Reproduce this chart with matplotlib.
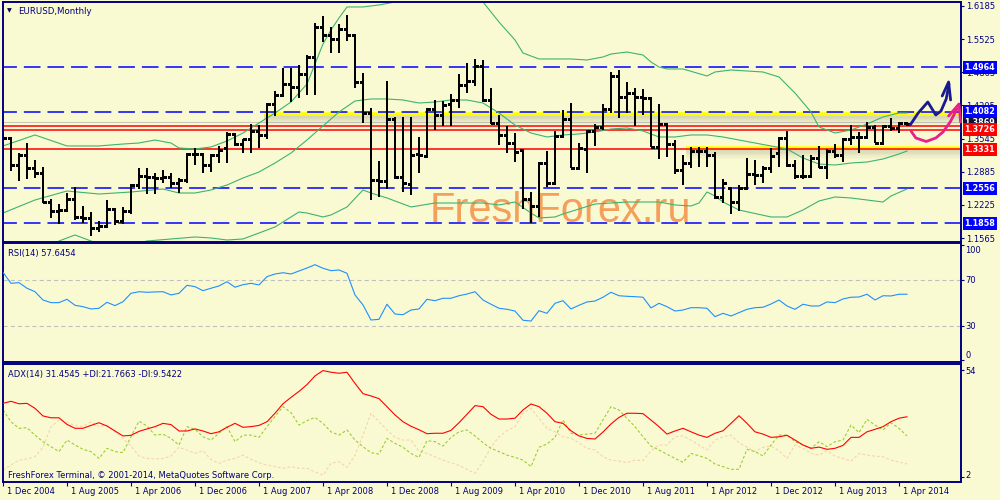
import numpy as np
import matplotlib
matplotlib.use("Agg")
import matplotlib.pyplot as plt

plt.rcParams['font.family'] = ['DejaVu Sans']
plt.rcParams['lines.scale_dashes'] = False

BG = '#FAFAD2'
NAVY = '#000080'

# monthly EURUSD bars, Dec 2004 .. May 2014
opens = [1.3598, 1.3558, 1.3020, 1.3220, 1.2961, 1.2861, 1.2284, 1.2105, 1.2125, 1.2344,
         1.1986, 1.1966, 1.1767, 1.1807, 1.2145, 1.1906, 1.2105, 1.2622, 1.2800, 1.2782,
         1.2762, 1.2782, 1.2662, 1.2722, 1.3239, 1.3239, 1.3020, 1.3220, 1.3359, 1.3638,
         1.3438, 1.3538, 1.3697, 1.3618, 1.4234, 1.4414, 1.4632, 1.4573, 1.4831, 1.5170,
         1.5767, 1.5608, 1.5528, 1.5727, 1.5608, 1.4672, 1.4055, 1.2722, 1.2702, 1.3936,
         1.2782, 1.2642, 1.3239, 1.3200, 1.4135, 1.4016, 1.4234, 1.4314, 1.4612, 1.4692,
         1.4991, 1.4314, 1.3856, 1.3618, 1.3458, 1.3319, 1.2344, 1.2205, 1.3060, 1.2662,
         1.3598, 1.3936, 1.2961, 1.3339, 1.3697, 1.3777, 1.4135, 1.4792, 1.4374, 1.4453,
         1.4374, 1.4354, 1.3379, 1.3836, 1.3438, 1.2921, 1.3060, 1.3299, 1.3299, 1.3220,
         1.2384, 1.2563, 1.2284, 1.2563, 1.2841, 1.2822, 1.2961, 1.3259, 1.3558, 1.3020,
         1.2800, 1.2800, 1.3160, 1.2981, 1.3299, 1.3220, 1.3538, 1.3578, 1.3578, 1.3777,
         1.3458, 1.3797, 1.3757, 1.3856]
highs = [1.3657, 1.3578, 1.3259, 1.3458, 1.3120, 1.2981, 1.2344, 1.2244, 1.2463, 1.2583,
         1.2205, 1.2085, 1.1906, 1.2324, 1.2165, 1.2185, 1.2642, 1.2961, 1.2961, 1.2861,
         1.2921, 1.2861, 1.2762, 1.3259, 1.3359, 1.3259, 1.3239, 1.3399, 1.3677, 1.3657,
         1.3538, 1.3836, 1.3816, 1.4254, 1.4493, 1.4951, 1.4951, 1.5011, 1.5210, 1.5846,
         1.5986, 1.5767, 1.5826, 1.6006, 1.5628, 1.4851, 1.4155, 1.3100, 1.4692, 1.3976,
         1.3976, 1.3976, 1.3578, 1.4155, 1.4314, 1.4294, 1.4433, 1.4831, 1.5050, 1.5130,
         1.5110, 1.4553, 1.4016, 1.3797, 1.3657, 1.3339, 1.2483, 1.3080, 1.3299, 1.3697,
         1.4115, 1.4254, 1.3458, 1.3717, 1.3836, 1.4234, 1.4871, 1.4911, 1.4672, 1.4553,
         1.4533, 1.4374, 1.4234, 1.3836, 1.3518, 1.3220, 1.3379, 1.3379, 1.3379, 1.3279,
         1.2742, 1.2583, 1.2622, 1.3160, 1.3120, 1.3001, 1.3359, 1.3578, 1.3697, 1.3120,
         1.3220, 1.3220, 1.3399, 1.3339, 1.3438, 1.3558, 1.3816, 1.3677, 1.3876, 1.3816,
         1.3816, 1.3956, 1.3876, 1.3876]
lows = [1.3120, 1.2901, 1.2702, 1.2742, 1.2762, 1.2264, 1.1966, 1.1846, 1.2085, 1.1926,
        1.1866, 1.1608, 1.1687, 1.1787, 1.1827, 1.1846, 1.2046, 1.2543, 1.2443, 1.2443,
        1.2662, 1.2563, 1.2463, 1.2662, 1.3020, 1.2861, 1.2881, 1.3060, 1.3060, 1.3399,
        1.3259, 1.3259, 1.3359, 1.3538, 1.3996, 1.4374, 1.4274, 1.4354, 1.4414, 1.4414,
        1.5468, 1.5249, 1.5249, 1.5488, 1.4553, 1.3856, 1.2324, 1.2384, 1.2543, 1.2742,
        1.2483, 1.2423, 1.2861, 1.3180, 1.3717, 1.3797, 1.3797, 1.4155, 1.4453, 1.4593,
        1.4274, 1.3836, 1.3419, 1.3259, 1.3080, 1.2145, 1.1866, 1.1986, 1.2583, 1.2642,
        1.3578, 1.2961, 1.2961, 1.2861, 1.3399, 1.3717, 1.4055, 1.3956, 1.4055, 1.3797,
        1.4016, 1.3379, 1.3140, 1.3180, 1.2841, 1.2622, 1.2961, 1.2981, 1.2981, 1.2344,
        1.2264, 1.2046, 1.2105, 1.2523, 1.2622, 1.2662, 1.2861, 1.2981, 1.2981, 1.2742,
        1.2742, 1.2782, 1.2961, 1.2742, 1.3160, 1.3080, 1.3419, 1.3259, 1.3578, 1.3458,
        1.3458, 1.3697, 1.3657, 1.3797]
closes = [1.3558, 1.3020, 1.3220, 1.2961, 1.2861, 1.2284, 1.2105, 1.2125, 1.2344, 1.1986,
          1.1966, 1.1767, 1.1807, 1.2145, 1.1906, 1.2105, 1.2622, 1.2800, 1.2782, 1.2762,
          1.2782, 1.2662, 1.2722, 1.3239, 1.3239, 1.3020, 1.3220, 1.3319, 1.3638, 1.3438,
          1.3538, 1.3697, 1.3618, 1.4234, 1.4414, 1.4632, 1.4573, 1.4831, 1.5170, 1.5767,
          1.5608, 1.5528, 1.5727, 1.5608, 1.4672, 1.4055, 1.2722, 1.2702, 1.3936, 1.2782,
          1.2662, 1.3220, 1.3220, 1.4135, 1.4016, 1.4215, 1.4314, 1.4612, 1.4692, 1.4991,
          1.4314, 1.3856, 1.3618, 1.3458, 1.3279, 1.2344, 1.2205, 1.3060, 1.2662, 1.3598,
          1.3936, 1.2961, 1.3359, 1.3697, 1.3777, 1.4135, 1.4792, 1.4374, 1.4453, 1.4374,
          1.4354, 1.3379, 1.3836, 1.3438, 1.2921, 1.3060, 1.3299, 1.3299, 1.3220, 1.2384,
          1.2662, 1.2284, 1.2563, 1.2841, 1.2822, 1.2961, 1.3200, 1.3558, 1.3020, 1.2800,
          1.2800, 1.3160, 1.2981, 1.3299, 1.3220, 1.3538, 1.3578, 1.3578, 1.3777, 1.3458,
          1.3797, 1.3757, 1.3856, 1.3836]

# Bollinger bands (bar index, price)
bb_up_x = [0, 4, 8, 12, 15, 17, 19, 21, 22, 24, 26, 28, 30, 32, 34, 36, 38, 39, 40, 41,
           42, 43, 45, 47, 49, 51, 53, 55, 57, 59, 60, 62, 64, 65, 67, 71, 73, 75, 76, 78,
           80, 81, 82, 83, 85, 88, 89, 91, 95, 97, 99, 101, 102, 104, 106, 108, 110, 112, 113]
bb_up = [1.3399, 1.3618, 1.3399, 1.3399, 1.3438, 1.3458, 1.3518, 1.3458, 1.3359, 1.3339,
         1.3379, 1.3498, 1.3657, 1.3856, 1.4055, 1.4274, 1.4632, 1.5030, 1.5428, 1.5707,
         1.5946, 1.6165, 1.6165, 1.6205, 1.6264, 1.65, 1.68, 1.69, 1.67, 1.64,
         1.6264, 1.5866, 1.5508, 1.5249, 1.5130, 1.5130, 1.5110, 1.5170, 1.5229, 1.5269,
         1.5209, 1.5070, 1.4971, 1.4931, 1.4931, 1.4792, 1.4871, 1.4911, 1.4871, 1.4772,
         1.4453, 1.4075, 1.3777, 1.3657, 1.3717, 1.3836, 1.3976, 1.4055, 1.4055]
bb_mid_x = [0, 4, 8, 12, 16, 20, 22, 24, 26, 28, 30, 32, 34, 36, 38, 40, 42, 44, 46, 48,
            50, 52, 54, 56, 58, 60, 62, 64, 66, 68, 70, 72, 74, 76, 78, 80, 82, 84, 86, 88,
            90, 92, 94, 96, 98, 100, 102, 104, 106, 108, 110, 112, 113]
bb_mid = [1.2065, 1.2324, 1.2503, 1.2443, 1.2483, 1.2543, 1.2463, 1.2463, 1.2523, 1.2622,
          1.2762, 1.2881, 1.3060, 1.3259, 1.3518, 1.3797, 1.4075, 1.4294, 1.4334, 1.4334,
          1.4314, 1.4254, 1.4274, 1.4314, 1.4314, 1.4254, 1.4055, 1.3816, 1.3657, 1.3578,
          1.3618, 1.3638, 1.3677, 1.3737, 1.3757, 1.3697, 1.3578, 1.3578, 1.3618, 1.3618,
          1.3578, 1.3518, 1.3458, 1.3399, 1.3339, 1.3160, 1.3040, 1.3020, 1.3060, 1.3080,
          1.3140, 1.3239, 1.3299]
bb_low_x = [0, 4, 7, 9, 11, 13, 16, 18, 21, 24, 26, 28, 30, 32, 34, 36, 37, 38, 40, 41,
            43, 45, 46, 48, 51, 54, 56, 58, 60, 62, 64, 66, 67, 69, 70, 72, 74, 78, 82, 84,
            86, 87, 88, 89, 90, 92, 96, 98, 100, 102, 104, 106, 108, 110, 111, 113]
bb_low = [1.075, 1.103, 1.1508, 1.1628, 1.1508, 1.1409, 1.1429, 1.1508, 1.1548, 1.1588,
          1.1568, 1.1528, 1.1548, 1.1667, 1.1787, 1.1986, 1.2085, 1.2065, 1.1986, 1.2026,
          1.2185, 1.2523, 1.2463, 1.2364, 1.2185, 1.2264, 1.2264, 1.2264, 1.2264, 1.2225,
          1.2284, 1.2065, 1.1966, 1.1986, 1.2046, 1.2145, 1.2244, 1.2284, 1.2284, 1.2225,
          1.2205, 1.2264, 1.2483, 1.2404, 1.2284, 1.2125, 1.1986, 1.1986, 1.2125, 1.2304,
          1.2384, 1.2364, 1.2324, 1.2284, 1.2404, 1.2543]

rsi = [76.7, 67.1, 67.7, 62.8, 59.8, 52.6, 50.3, 50.3, 53.2, 48.0,
       46.8, 44.8, 45.4, 50.6, 47.7, 51.1, 58.4, 59.8, 59.3, 59.6,
       59.8, 57.0, 58.4, 65.4, 64.2, 60.7, 62.8, 64.8, 68.5, 63.7,
       65.9, 67.1, 65.7, 72.9, 75.2, 76.3, 75.2, 77.8, 80.4, 83.3,
       80.2, 78.1, 78.7, 75.8, 57.0, 48.3, 35.2, 35.8, 48.9, 40.4,
       39.8, 43.9, 44.8, 53.2, 52.0, 54.1, 54.1, 56.3, 57.8, 59.8,
       52.6, 48.9, 45.4, 44.5, 43.0, 35.0, 34.3, 43.3, 41.0, 49.7,
       52.0, 44.8, 48.0, 50.9, 51.7, 55.0, 59.3, 56.3, 55.8, 55.5,
       55.0, 45.7, 49.7, 46.8, 43.0, 43.9, 45.9, 45.9, 45.4, 38.1,
       41.0, 38.7, 41.6, 44.5, 45.9, 46.3, 49.1, 52.6, 47.4, 44.5,
       48.9, 47.4, 47.4, 50.9, 50.3, 53.5, 55.0, 55.2, 57.6, 52.6,
       56.3, 56.1, 57.6, 57.6]

adx = [37.8, 38.8, 37.6, 37.8, 35.4, 31.7, 30.8, 30.8, 27.6, 25.7,
       25.7, 27.1, 28.4, 26.8, 24.4, 22.0, 22.3, 24.2, 25.4, 26.5,
       28.1, 27.5, 24.4, 24.4, 25.4, 24.4, 23.1, 24.0, 26.2, 28.1,
       26.2, 26.5, 27.1, 28.9, 33.0, 37.6, 40.7, 43.6, 46.9, 51.1,
       53.7, 52.9, 52.4, 52.9, 47.5, 42.5, 41.4, 40.1, 36.2, 32.2,
       28.9, 26.7, 25.0, 23.1, 23.3, 23.3, 24.7, 28.4, 32.5, 36.7,
       36.2, 32.5, 30.2, 30.2, 30.6, 34.6, 37.5, 36.2, 33.0, 28.9,
       28.1, 24.5, 22.0, 20.8, 20.5, 23.9, 27.8, 31.0, 33.0, 33.0,
       32.8, 29.7, 26.5, 22.9, 24.4, 25.7, 24.0, 22.4, 21.3, 23.3,
       24.5, 28.1, 31.8, 28.1, 24.0, 22.9, 21.3, 21.6, 22.3, 20.0,
       17.6, 16.0, 16.6, 15.5, 16.0, 17.4, 21.3, 21.3, 24.0, 25.2,
       26.5, 28.9, 30.6, 31.3]
plus_di = [34.6, 28.9, 25.7, 26.0, 22.4, 19.2, 16.8, 14.4, 20.0, 17.6,
           15.5, 14.4, 11.1, 16.0, 14.4, 13.9, 21.6, 29.2, 26.8, 22.4,
           22.8, 20.8, 17.6, 26.5, 25.2, 21.6, 20.0, 23.3, 26.5, 19.2,
           22.4, 22.4, 21.3, 26.5, 31.4, 36.2, 33.3, 27.3, 29.4, 31.0,
           28.1, 24.0, 22.4, 24.9, 20.0, 16.8, 13.9, 13.2, 20.8, 18.4,
           16.5, 13.5, 11.6, 19.7, 19.2, 17.1, 21.3, 24.0, 24.9, 22.0,
           18.7, 16.0, 14.4, 12.7, 11.6, 10.3, 7.1, 16.5, 18.1, 21.3,
           29.8, 23.3, 22.4, 22.9, 23.3, 29.8, 36.2, 34.6, 30.5, 26.5,
           21.6, 17.1, 15.2, 13.1, 11.1, 9.2, 13.5, 12.4, 11.1, 8.4,
           7.1, 5.8, 5.8, 15.5, 14.4, 12.3, 17.6, 22.4, 22.4, 19.2,
           17.6, 16.0, 19.2, 16.8, 19.2, 20.0, 27.3, 23.6, 30.0, 27.3,
           24.9, 28.4, 25.7, 22.0]
minus_di = [5.5, 7.9, 10.3, 10.8, 11.9, 16.5, 26.5, 29.7, 28.6, 27.0,
            26.5, 28.9, 26.5, 27.3, 24.0, 20.8, 17.1, 12.2, 11.1, 10.8,
            11.1, 12.2, 16.5, 15.2, 13.5, 14.8, 10.6, 8.7, 10.3, 11.1,
            12.7, 10.6, 9.0, 7.9, 7.1, 6.3, 7.1, 6.3, 6.3, 4.6,
            3.0, 8.7, 9.5, 6.7, 12.7, 22.4, 33.0, 28.9, 24.9, 21.3,
            20.0, 20.0, 14.4, 13.5, 11.9, 10.3, 9.0, 7.7, 5.8, 3.8,
            9.5, 16.5, 21.6, 24.5, 26.5, 33.0, 35.4, 30.5, 25.7, 24.0,
            21.6, 20.8, 18.7, 16.0, 15.2, 11.9, 10.3, 9.8, 9.0, 10.3,
            10.0, 14.8, 17.6, 17.6, 21.6, 22.0, 20.0, 17.6, 15.2, 20.0,
            21.6, 22.4, 18.7, 16.5, 14.4, 16.5, 17.1, 14.8, 11.1, 17.6,
            16.0, 13.5, 12.7, 14.8, 12.2, 11.1, 9.8, 13.5, 12.7, 12.2,
            11.9, 10.3, 9.3, 8.4]

date_labels = ['1 Dec 2004', '1 Aug 2005', '1 Apr 2006', '1 Dec 2006', '1 Aug 2007',
               '1 Apr 2008', '1 Dec 2008', '1 Aug 2009', '1 Apr 2010', '1 Dec 2010',
               '1 Aug 2011', '1 Apr 2012', '1 Dec 2012', '1 Aug 2013', '1 Apr 2014']
price_ticks = [1.6185, 1.5525, 1.4865, 1.4205, 1.3545, 1.2885, 1.2225, 1.1565]

blue_levels = [1.4964, 1.4082, 1.2556, 1.1858]
red_levels = [1.3795, 1.3726, 1.3331]
bid = 1.3869
yellow_lines = [(1.4035, 32.6), (1.3359, 85.4)]   # price, start bar

# hand drawn arrows (bar, price)
blue_arrow_x = [113.4, 114.4, 115.6, 116.6, 117.25, 117.9, 118.25]
blue_arrow_y = [1.3817, 1.4055, 1.4274, 1.4016, 1.4095, 1.4334, 1.4632]
blue_head_x = [117.4, 118.2, 118.45]
blue_head_y = [1.4394, 1.4672, 1.4314]
pink_arrow_x = [113.5, 114.1, 115.4, 116.6, 117.5, 118.4, 119.25]
pink_arrow_y = [1.3697, 1.3558, 1.3488, 1.3558, 1.3677, 1.3876, 1.4135]
pink_head_x = [118.2, 119.5, 119.7]
pink_head_y = [1.3996, 1.4235, 1.3876]

idx = np.arange(len(closes))
XL = (-0.06, 119.75)

fig = plt.figure(figsize=(10, 5), dpi=100, facecolor=BG)
ax_p = fig.add_axes([0.0025, 0.517, 0.9585, 0.4784], facecolor=BG)
ax_r = fig.add_axes([0.0025, 0.2754, 0.9585, 0.2378], facecolor=BG)
ax_a = fig.add_axes([0.0025, 0.0366, 0.9585, 0.2346], facecolor=BG)

for ax in (ax_p, ax_r, ax_a):
    ax.set_xlim(*XL)
    for s in ax.spines.values():
        s.set_color(NAVY)
        s.set_linewidth(1.4)
    ax.tick_params(axis='x', bottom=False, labelbottom=False)
    ax.tick_params(axis='y', left=False, labelleft=False, right=True, labelright=False,
                   length=2.5, width=0.8, color=NAVY)

# ---- price panel
ax_p.set_ylim(1.1498, 1.6258)
ax_p.set_yticks(price_ticks)
ax_p.set_yticklabels([f'{t:.4f}' for t in price_ticks])
ax_p.tick_params(axis='y', labelright=True, labelsize=6, labelcolor=NAVY, pad=1.5)

ax_p.text(0.446, 0.083, 'FreshForex.ru', transform=ax_p.transAxes, fontsize=30,
          family='Liberation Sans', color='#F4A05C', va='baseline', zorder=1)

for lv in blue_levels:
    ax_p.axhline(lv, color='#0000FF', lw=1.1, linestyle=(2, (12, 5)), zorder=2)
ax_p.axhline(bid, color='#C8C8B8', lw=0.8, zorder=1.5)

for p, x0 in yellow_lines:
    for k in range(8):
        ax_p.fill_between([x0, XL[1]], p - 0.0022 - k * 0.0024, p - 0.0022 - (k + 1) * 0.0024,
                          color='#7A7A68', alpha=0.3 * (1 - k / 8.0), lw=0, zorder=1.6)
    ax_p.hlines(p, x0, XL[1], color='#FFFF00', lw=2.6, zorder=1.8)

for lv in red_levels:
    ax_p.axhline(lv, color='#FF0000', lw=1.1, zorder=2.2)

for bx, by in ((bb_up_x, bb_up), (bb_mid_x, bb_mid), (bb_low_x, bb_low)):
    ax_p.plot(bx, by, color='#3CB371', lw=0.8, zorder=2.5)

ax_p.vlines(idx, lows, highs, color='black', lw=1.3, antialiased=False, zorder=4)
ax_p.hlines(opens, idx - 0.4, idx, color='black', lw=0.75, antialiased=False, zorder=4)
ax_p.hlines(closes, idx, idx + 0.4, color='black', lw=0.75, antialiased=False, zorder=4)

ax_p.plot(blue_arrow_x, blue_arrow_y, color='#1A1A90', lw=2.0, solid_joinstyle='round',
          solid_capstyle='round', zorder=6, clip_on=False)
ax_p.plot(blue_head_x, blue_head_y, color='#1A1A90', lw=2.0, solid_joinstyle='round',
          solid_capstyle='round', zorder=6, clip_on=False)
ax_p.plot(pink_arrow_x, pink_arrow_y, color='#E8208C', lw=2.0, solid_joinstyle='round',
          solid_capstyle='round', zorder=6, clip_on=False)
ax_p.plot(pink_head_x, pink_head_y, color='#E8208C', lw=2.0, solid_joinstyle='round',
          solid_capstyle='round', zorder=6, clip_on=False)


def price_tag(ax, y, color):
    ax.text(1.0035, y, f'{y:.4f}', transform=ax.get_yaxis_transform(), ha='left', va='center',
            fontsize=5.8, fontweight='bold', color='white', clip_on=False, zorder=7,
            bbox=dict(boxstyle='square,pad=0.22', fc=color, ec='none'))


price_tag(ax_p, bid, '#101038')
for lv in blue_levels:
    price_tag(ax_p, lv, '#0000FF')
price_tag(ax_p, red_levels[1], '#FF0000')
price_tag(ax_p, red_levels[2], '#FF0000')

ax_p.text(0.0068, 0.9636, '\u25BC', transform=ax_p.transAxes, fontsize=4.5, color='#000040',
          va='center', ha='center')
ax_p.text(0.0162, 0.9636, 'EURUSD,Monthly', transform=ax_p.transAxes, fontsize=6.2,
          color=NAVY, va='center')

# ---- RSI panel
ax_r.set_ylim(-1.57, 101.8)
ax_r.set_yticks([100, 70, 30, 0])
for lv in (70, 30):
    ax_r.axhline(lv, color='#C0C0C0', lw=0.8, linestyle=(0, (3, 2.2)), zorder=1)
ax_r.plot(idx, rsi, color='#1E90FF', lw=0.8, zorder=3)
for lab, fy in (('100', 0.944), ('70', 0.692), ('30', 0.305), ('0', 0.061)):
    ax_r.text(1.0042, fy, lab, transform=ax_r.transAxes, fontsize=6, color=NAVY,
              va='center', ha='left', clip_on=False)
ax_r.text(0.0057, 0.919, 'RSI(14) 57.6454', transform=ax_r.transAxes, fontsize=6,
          color=NAVY, va='center')

# ---- ADX panel
ax_a.set_ylim(-0.2, 56.7)
ax_a.set_yticks([54, 2])
ax_a.plot(idx, minus_di, color='#F6D3AE', lw=0.8, linestyle=(0, (2, 1.5)), zorder=2)
ax_a.plot(idx, plus_di, color='#9ACD32', lw=0.8, linestyle=(0, (2, 1.5)), zorder=2.2)
ax_a.plot(idx, adx, color='#FF0000', lw=0.8, zorder=3)
for lab, fy in (('54', 0.938), ('2', 0.051)):
    ax_a.text(1.0042, fy, lab, transform=ax_a.transAxes, fontsize=6, color=NAVY,
              va='center', ha='left', clip_on=False)
ax_a.text(0.0057, 0.918, 'ADX(14) 31.4545 +DI:21.7663 -DI:9.5422', transform=ax_a.transAxes,
          fontsize=6, color=NAVY, va='center')
ax_a.text(0.0057, 0.057, 'FreshForex Terminal, \u00a9 2001-2014, MetaQuotes Software Corp.',
          transform=ax_a.transAxes, fontsize=6, color=NAVY, va='center')

date_pos = idx[::8][:len(date_labels)]
ax_a.set_xticks(date_pos)
ax_a.tick_params(axis='x', bottom=True, length=3, width=0.8, color=NAVY, direction='out')
for xp, lab in zip(date_pos, date_labels):
    ax_a.text(xp + 0.5, -0.085, lab, transform=ax_a.get_xaxis_transform(), fontsize=6,
              color=NAVY, va='center', ha='left', clip_on=False)

fig.savefig('out.png', dpi=100, facecolor=BG)
